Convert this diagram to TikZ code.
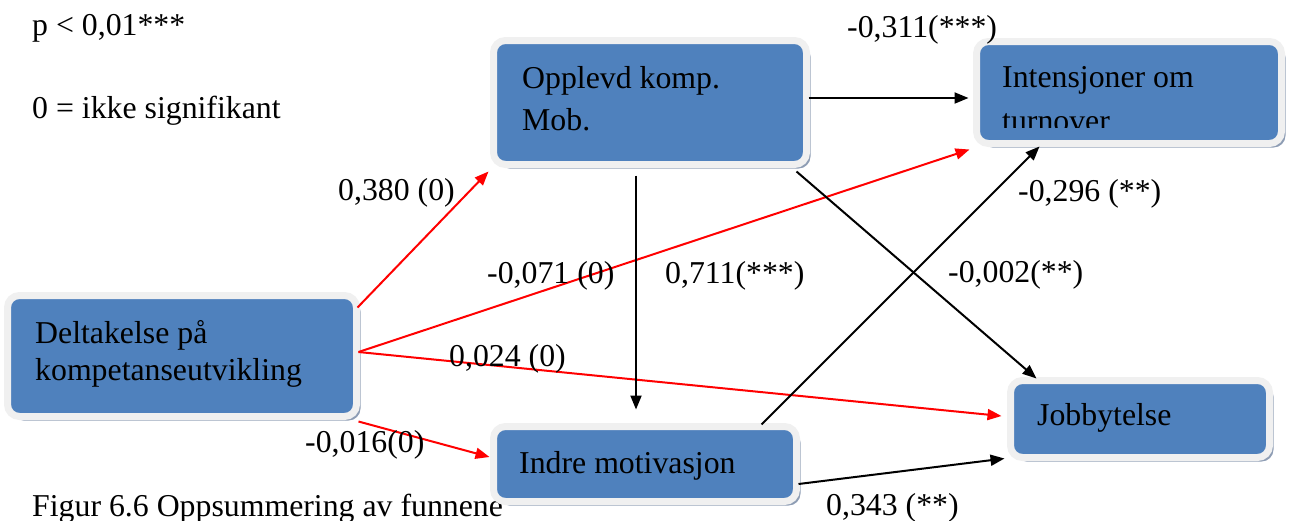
\documentclass[tikz,border=0pt]{standalone}
\usepackage{fontspec}
\setmainfont{Liberation Serif}
\usetikzlibrary{arrows.meta,shadows,calc}
\definecolor{boxblue}{HTML}{4F81BD}
\definecolor{boxrim}{HTML}{F0F0F0}
\definecolor{boxshade}{HTML}{8E9DB4}
\definecolor{pathred}{HTML}{FF0000}
\tikzset{
  x=1pt, y=-1pt,
  box/.style={rectangle, rounded corners=12pt, fill=boxblue, draw=boxrim,
    line width=7pt, inner sep=0pt,
    drop shadow={shadow xshift=4pt, shadow yshift=-4pt, fill=boxshade, opacity=1}},
  txt/.style={anchor=base west, inner sep=0pt, font=\fontsize{31.8}{38}\selectfont},
  link/.style={line width=2pt, -{Triangle[length=14pt,width=11pt]}},
  redlink/.style={link, draw=pathred, color=pathred},
  blacklink/.style={link, draw=black},
}
\begin{document}
\begin{tikzpicture}
\useasboundingbox (0,0) rectangle (1289,520);

% caption and legend
\node[txt] (cap) at (32,516) {Figur 6.6 Oppsummering av funnene};
\node[txt] (leg1) at (32,35) {p < 0,01***};
\node[txt] (leg2) at (32,118) {0 = ikke signifikant};

% construct boxes
\node[box, minimum width=313pt, minimum height=124pt] (opp) at (650,102.5) {};
\node[box, minimum width=305pt, minimum height=102pt] (int) at (1129,92.5) {};
\node[box, minimum width=349pt, minimum height=121pt] (del) at (182,356) {};
\node[box, minimum width=303pt, minimum height=75pt] (ind) at (645,464) {};
\node[box, minimum width=259pt, minimum height=77pt] (job) at (1140,419) {};

% box texts
\node[txt] (oppA) at (522,88) {Opplevd komp.};
\node[txt] (oppB) at (522,130) {Mob.};
\begin{scope}
  \clip (980,45) rectangle (1278,127);
  \node[txt] (intA) at (1002,87) {Intensjoner om};
  \node[txt] (intB) at (1002,131) {turnover};
\end{scope}
\node[txt] (delA) at (35,343) {Deltakelse på};
\node[txt] (delB) at (35,380) {kompetanseutvikling};
\node[txt] (indA) at (519,473) {Indre motivasjon};
\node[txt] (jobA) at (1037,425) {Jobbytelse};

% paths from participation in competence development
\draw[redlink] ([xshift=-2.5pt,yshift=-15.5pt]del.north east) -- ([xshift=-1.5pt,yshift=-3.5pt]opp.south west);
\draw[redlink] ([xshift=-1.5pt,yshift=4pt]del.east) -- ([xshift=-3.5pt,yshift=-2.5pt]int.south west);
\draw[redlink] ([xshift=-1.5pt,yshift=4pt]del.east) -- ([xshift=-5.5pt,yshift=3pt]job.west);
\draw[redlink] ([xshift=-1.5pt,yshift=-1.5pt]del.south east) -- ([xshift=-0.5pt,yshift=7pt]ind.west);

% paths from perceived mobility
\draw[blacklink] ([xshift=-1.5pt,yshift=4.5pt]opp.east) -- ([xshift=-4.5pt,yshift=-5.5pt]int.west);
\draw[blacklink] ([xshift=-14pt,yshift=-7.5pt]opp.south) -- ([xshift=-9pt,yshift=13.5pt]ind.north);
\draw[blacklink] ([xshift=-13.5pt,yshift=-3.5pt]opp.south east) -- ([xshift=29.5pt,yshift=-1.5pt]job.north west);

% paths from intrinsic motivation
\draw[blacklink] ([xshift=-38.5pt,yshift=-1.5pt]ind.north east) -- ([xshift=66.5pt,yshift=0.5pt]int.south west);
\draw[blacklink] ([xshift=-1.5pt,yshift=-20pt]ind.east) -- ([xshift=-2.5pt,yshift=2.5pt]job.south west);

% coefficients
\node[txt] (c1) at (847,37) {-0,311(***)};
\node[txt] (c2) at (338,200) {0,380 (0)};
\node[txt] (c3) at (1018,201) {-0,296 (**)};
\node[txt] (c4) at (487,283) {-0,071 (0)};
\node[txt] (c5) at (665,283) {0,711(***)};
\node[txt] (c6) at (948,282) {-0,002(**)};
\node[txt] (c7) at (449,366) {0,024 (0)};
\node[txt] (c8) at (305,452) {-0,016(0)};
\node[txt] (c9) at (826,515) {0,343 (**)};
\end{tikzpicture}
\end{document}
